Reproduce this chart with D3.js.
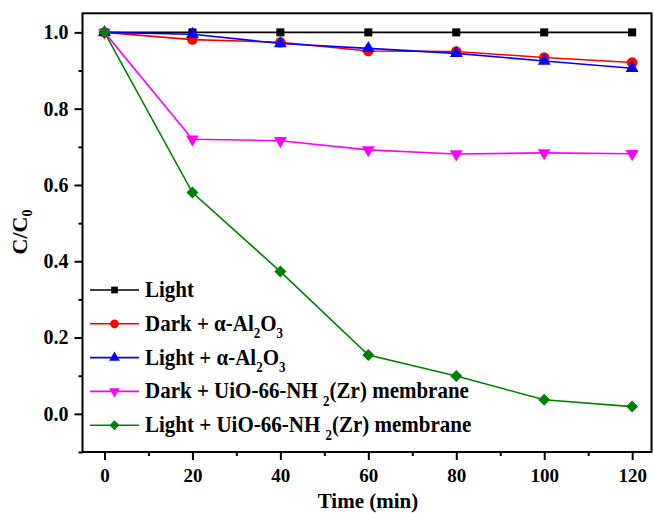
<!DOCTYPE html>
<html>
<head>
<meta charset="utf-8">
<script src="https://cdn.jsdelivr.net/npm/d3@7"></script>
<style>
	body { margin: 0; background: #fff; }
	svg text { font-family: "Liberation Serif", "Times New Roman", serif; font-weight: bold; fill: #000; }
	.axis path.domain { display: none; }
	.axis line { stroke: #000; stroke-width: 2px; }
</style>
</head>
<body>
<div id="chart"></div>
<script>
	var times = [0, 20, 40, 60, 80, 100, 120];
	var light = [1.0, 1.0, 1.0, 1.0, 1.0, 1.0, 1.0];
	var darkAl = [1.0, 0.981, 0.974, 0.951, 0.950, 0.934, 0.921];
	var lightAl = [1.0, 0.995, 0.971, 0.958, 0.945, 0.925, 0.906];
	var darkUio = [1.0, 0.720, 0.716, 0.692, 0.681, 0.684, 0.682];
	var lightUio = [1.0, 0.580, 0.373, 0.154, 0.099, 0.037, 0.019];

	var xTicks = [0, 20, 40, 60, 80, 100, 120];
	var xMinor = [10, 30, 50, 70, 90, 110];
	var yTicks = [0.0, 0.2, 0.4, 0.6, 0.8, 1.0];
	var yMinor = [-0.1, 0.1, 0.3, 0.5, 0.7, 0.9];

	// legend labels as [text, subscript] pieces
	var names = [
		[["Light", ""]],
		[["Dark + \u03b1-Al", "2"], ["O", "3"]],
		[["Light + \u03b1-Al", "2"], ["O", "3"]],
		[["Dark + UiO-66-NH ", "2"], ["(Zr) membrane", ""]],
		[["Light + UiO-66-NH ", "2"], ["(Zr) membrane", ""]]
	];
	var colors = ["#000000", "#ff0000", "#0000ff", "#ff00ff", "#008000"];

	var W = 654, H = 513;
	var mLeft = 82.5, mRight = 651.5, mTop = 13.3, mBot = 452;

	var series = [light, darkAl, lightAl, darkUio, lightUio].map(function(vals, i) {
		return { name: names[i], color: colors[i], values: vals.map(function(v, j) { return { t: times[j], v: v }; }) };
	});

	var xSc = d3.scaleLinear().domain([-5, 124.4]).range([mLeft, mRight]);
	var ySc = d3.scaleLinear().domain([-0.1, 1.05]).range([mBot, mTop]);

	var svg = d3.select("#chart").append("svg").attr("width", W).attr("height", H);

	// marker shapes
	function markerPath(i, size) {
		if (i == 0) return d3.symbol().type(d3.symbolSquare).size(size * 0.9)();
		if (i == 1) return d3.symbol().type(d3.symbolCircle).size(size * 1.2)();
		if (i == 2 || i == 3) return d3.symbol().type(d3.symbolTriangle).size(size)();
		return d3.symbol().type(d3.symbolSquare).size(size)();
	}
	function markerRot(i) {
		if (i == 3) return " rotate(180)";
		if (i == 4) return " rotate(45)";
		return "";
	}

	//axes
	svg.append("g").attr("class", "x axis").attr("transform", "translate(0," + mBot + ")")
		.call(d3.axisBottom(xSc).tickValues(xTicks).tickSize(8).tickPadding(9).tickFormat(d3.format("d")))
		.selectAll("text").style("font-size", "19px");
	svg.append("g").attr("class", "x axis").attr("transform", "translate(0," + mBot + ")")
		.call(d3.axisBottom(xSc).tickValues(xMinor).tickSize(4).tickFormat(""));
	svg.append("g").attr("class", "y axis").attr("transform", "translate(" + mLeft + ",0)")
		.call(d3.axisLeft(ySc).tickValues(yTicks).tickSize(8).tickPadding(6).tickFormat(d3.format(".1f")))
		.selectAll("text").style("font-size", "20px");
	svg.append("g").attr("class", "y axis").attr("transform", "translate(" + mLeft + ",0)")
		.call(d3.axisLeft(ySc).tickValues(yMinor).tickSize(4).tickFormat(""));
	svg.selectAll(".axis").attr("font-family", null).attr("font-size", null);
	svg.selectAll(".axis text").attr("fill", "#000");

	svg.append("rect").attr("x", mLeft).attr("y", mTop).attr("width", mRight - mLeft).attr("height", mBot - mTop)
		.attr("fill", "none").attr("stroke", "#000").attr("stroke-width", 2);

	// lines + markers
	var line = d3.line().x(function(d) { return xSc(d.t); }).y(function(d) { return ySc(d.v); });
	var sg = svg.append("g").selectAll("g").data(series).enter().append("g");
	sg.append("path").attr("d", function(d) { return line(d.values); })
		.attr("fill", "none").attr("stroke", function(d) { return d.color; }).attr("stroke-width", 1.6);
	sg.each(function(s, i) {
		d3.select(this).selectAll(".pt").data(s.values).enter().append("path").attr("class", "pt")
			.attr("d", markerPath(i, 72))
			.attr("transform", function(d) { return "translate(" + xSc(d.t) + "," + ySc(d.v) + ")" + markerRot(i); })
			.attr("fill", s.color);
	});

	// legend
	var legY0 = 290, legStep = 33.8;
	var leg = svg.append("g").selectAll("g").data(series).enter().append("g")
		.attr("transform", function(d, i) { return "translate(0," + (legY0 + i * legStep) + ")"; });
	leg.append("line").attr("x1", 90).attr("x2", 139).attr("y1", 0).attr("y2", 0)
		.attr("stroke", function(d) { return d.color; }).attr("stroke-width", 1.6);
	leg.append("path").attr("d", function(d, i) { return markerPath(i, 50); })
		.attr("transform", function(d, i) { return "translate(114.5,0)" + markerRot(i); })
		.attr("fill", function(d) { return d.color; });
	var lt = leg.append("text").attr("transform", "translate(145,7) scale(1,1.08)").style("font-size", "21px");
	lt.each(function(d) {
		var t = d3.select(this), back = 0;
		d.name.forEach(function(p) {
			t.append("tspan").attr("dy", back).text(p[0]);
			back = 0;
			if (p[1]) {
				t.append("tspan").attr("dy", 7).style("font-size", "13px").text(p[1]);
				back = -7;
			}
		});
	});

	// axis titles
	svg.append("text").attr("x", 368).attr("y", 508).attr("text-anchor", "middle")
		.style("font-size", "21px").text("Time (min)");
	var yt = svg.append("text").attr("transform", "translate(27,232) rotate(-90)").attr("text-anchor", "middle")
		.style("font-size", "22px");
	yt.append("tspan").text("C/C");
	yt.append("tspan").attr("dy", 5).style("font-size", "14px").text("0");
</script>
</body>
</html>
